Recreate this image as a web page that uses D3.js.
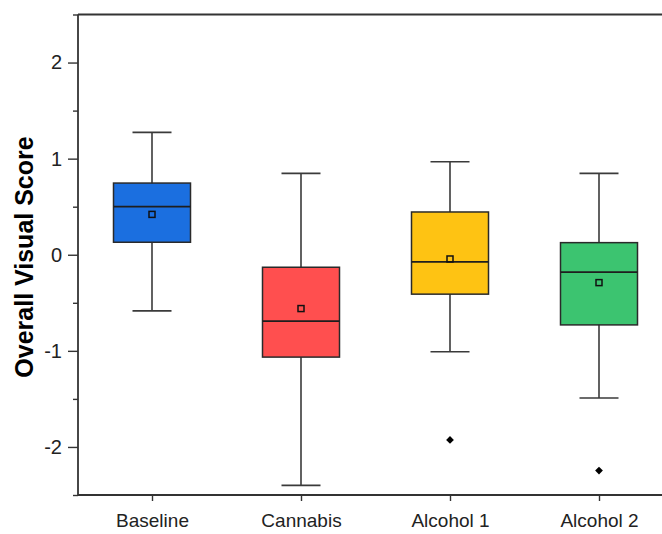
<!DOCTYPE html>
<html>
<head>
<meta charset="utf-8">
<script src="https://cdn.jsdelivr.net/npm/d3@7"></script>
<style>
  html, body { margin: 0; padding: 0; background: #fff; }
  svg { display: block; }
  text { font-family: "Liberation Sans", Arial, sans-serif; }
</style>
</head>
<body>
<svg id="chart" width="662" height="534"></svg>
<script>
const categories = ["Baseline", "Cannabis", "Alcohol 1", "Alcohol 2"];
const whiskerLow  = [-0.584, -2.40, -1.01, -1.49];
const q1          = [0.13, -1.065, -0.41, -0.73];
const medians     = [0.50, -0.69, -0.075, -0.18];
const q3          = [0.746, -0.13, 0.445, 0.126];
const whiskerHigh = [1.273, 0.847, 0.967, 0.847];
const means       = [0.42, -0.56, -0.044, -0.29];
const outlierCat  = ["Alcohol 1", "Alcohol 2"];
const outlierVal  = [-1.927, -2.246];
const boxColors   = ["#1b6fe0", "#ff4f4f", "#fec313", "#3cc470"];
const yTicks      = [-2, -1, 0, 1, 2];
const yMinorTicks = [-2.5, -1.5, -0.5, 0.5, 1.5, 2.5];

const svg = d3.select("#chart");
const frame = { left: 78, right: 674, top: 14.5, bottom: 495 };

const x = d3.scalePoint().domain(categories).range([152, 599]);
const y = d3.scaleLinear().domain([-2.5, 2.5]).range([frame.bottom, frame.top]);

const boxW = 77, capW = 39;
const lineCol = "#333";

const data = categories.map((c, i) => ({
  cat: c, lo: whiskerLow[i], q1: q1[i], med: medians[i], q3: q3[i],
  hi: whiskerHigh[i], mean: means[i], color: boxColors[i]
}));

const g = svg.append("g");

// whiskers
g.selectAll("line.whisk").data(data).join("line")
  .attr("x1", d => x(d.cat)).attr("x2", d => x(d.cat))
  .attr("y1", d => y(d.hi)).attr("y2", d => y(d.lo))
  .attr("stroke", "#3a3a3a").attr("stroke-width", 1.6);
g.selectAll("line.capH").data(data).join("line")
  .attr("x1", d => x(d.cat) - capW / 2).attr("x2", d => x(d.cat) + capW / 2)
  .attr("y1", d => y(d.hi)).attr("y2", d => y(d.hi))
  .attr("stroke", "#3a3a3a").attr("stroke-width", 1.6);
g.selectAll("line.capL").data(data).join("line")
  .attr("x1", d => x(d.cat) - capW / 2).attr("x2", d => x(d.cat) + capW / 2)
  .attr("y1", d => y(d.lo)).attr("y2", d => y(d.lo))
  .attr("stroke", "#3a3a3a").attr("stroke-width", 1.6);

// boxes
g.selectAll("rect.box").data(data).join("rect")
  .attr("x", d => x(d.cat) - boxW / 2).attr("width", boxW)
  .attr("y", d => y(d.q3)).attr("height", d => y(d.q1) - y(d.q3))
  .attr("fill", d => d.color).attr("stroke", "#2a2a2a").attr("stroke-width", 1.5);

// medians
g.selectAll("line.med").data(data).join("line")
  .attr("x1", d => x(d.cat) - boxW / 2).attr("x2", d => x(d.cat) + boxW / 2)
  .attr("y1", d => y(d.med)).attr("y2", d => y(d.med))
  .attr("stroke", "#1e1e1e").attr("stroke-width", 1.8);

// means
g.selectAll("rect.mean").data(data).join("rect")
  .attr("x", d => x(d.cat) - 3).attr("y", d => y(d.mean) - 3)
  .attr("width", 6).attr("height", 6)
  .attr("fill", "none").attr("stroke", "#111").attr("stroke-width", 1.5);

// outliers
const diamond = d3.symbol(d3.symbolSquare, 30);
g.selectAll("path.out").data(outlierCat.map((c, i) => ({ cat: c, v: outlierVal[i] }))).join("path")
  .attr("d", diamond)
  .attr("transform", d => `translate(${x(d.cat)},${y(d.v)}) rotate(45)`)
  .attr("fill", "#000");

// top frame line
svg.append("line").attr("x1", frame.left).attr("x2", frame.right)
  .attr("y1", frame.top).attr("y2", frame.top).attr("stroke", lineCol).attr("stroke-width", 1.8);

// y axis
const yAxis = svg.append("g").attr("transform", `translate(${frame.left},0)`)
  .call(d3.axisLeft(y).tickValues(yTicks).tickSize(10).tickPadding(6).tickFormat(d => String(d)));
yAxis.select(".domain").attr("stroke", lineCol).attr("stroke-width", 1.8).attr("d", `M0,${frame.top}V${frame.bottom}`);
yAxis.selectAll(".tick line").attr("stroke", lineCol).attr("stroke-width", 1.4);
yAxis.selectAll(".tick text").attr("font-size", 20).attr("fill", "#222")
  .attr("font-family", "'Liberation Sans', Arial, sans-serif");
const yMinor = svg.append("g").attr("transform", `translate(${frame.left},0)`)
  .call(d3.axisLeft(y).tickValues(yMinorTicks).tickSize(5).tickFormat(""));
yMinor.select(".domain").remove();
yMinor.selectAll(".tick line").attr("stroke", lineCol).attr("stroke-width", 1.4);

// x axis
const xAxis = svg.append("g").attr("transform", `translate(0,${frame.bottom})`)
  .call(d3.axisBottom(x).tickSize(6).tickPadding(13));
xAxis.select(".domain").attr("stroke", lineCol).attr("stroke-width", 1.8).attr("d", `M${frame.left},0H${frame.right}`);
xAxis.selectAll(".tick line").attr("stroke", lineCol).attr("stroke-width", 1.4);
xAxis.selectAll(".tick text").attr("font-size", 19).attr("fill", "#222")
  .attr("font-family", "'Liberation Sans', Arial, sans-serif");

// y label
svg.append("text")
  .attr("transform", `translate(33,257) rotate(-90)`)
  .attr("text-anchor", "middle")
  .attr("font-size", 25).attr("font-weight", "bold").attr("fill", "#000")
  .text("Overall Visual Score");
</script>
</body>
</html>
